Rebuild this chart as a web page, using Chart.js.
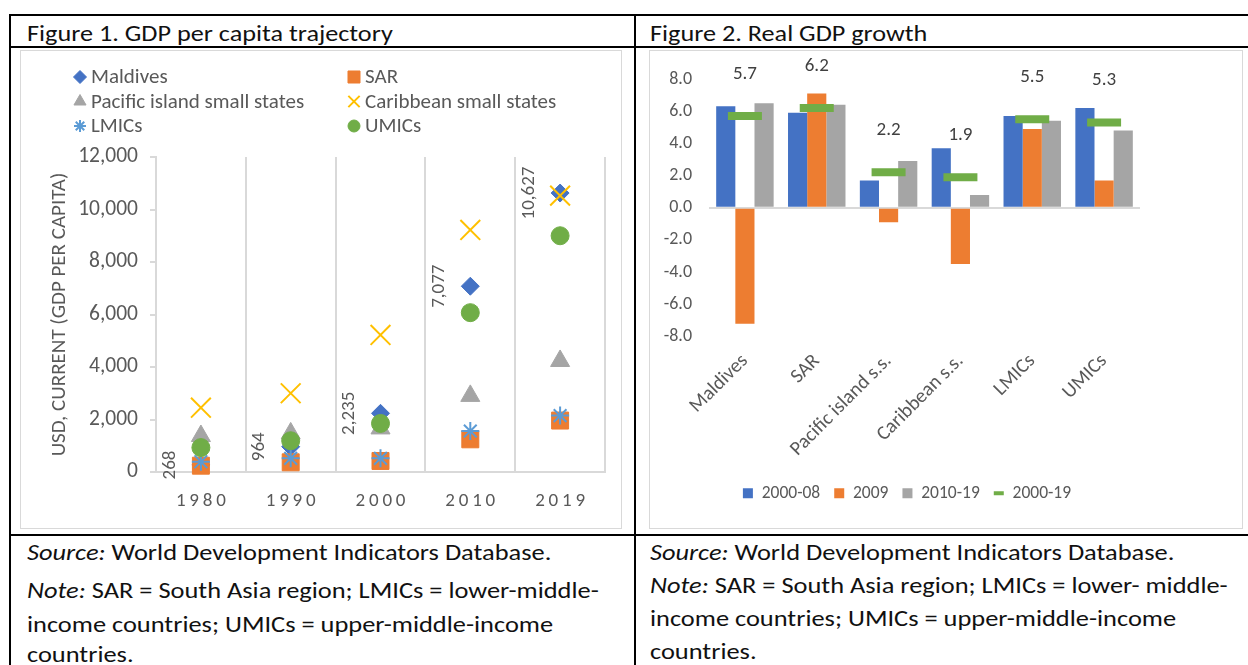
<!DOCTYPE html>
<html>
<head>
<meta charset="utf-8">
<script src="https://cdn.jsdelivr.net/npm/chart.js@4/dist/chart.umd.min.js"></script>
<style>
  html, body { margin: 0; padding: 0; background: #fff; }
  body { width: 1248px; height: 665px; overflow: hidden; position: relative; font-family: Carlito, Lato, sans-serif; color: #000; }
  .hl { position: absolute; left: 9px; width: 1239px; height: 2px; background: #000; }
  .vl { position: absolute; top: 14px; width: 2px; height: 651px; background: #000; }
  .hdr { position: absolute; top: 18px; font-size: 23px; line-height: 30px; white-space: nowrap; color: #111; transform: scaleX(1.14); transform-origin: 0 0; }
  .panel { position: absolute; top: 50px; height: 477px; border: 1px solid #d9d9d9; }
  .panel canvas { display: block; }
  .note { position: absolute; font-size: 22px; line-height: 30px; white-space: nowrap; color: #111; transform: scaleX(1.2); transform-origin: 0 0; }
</style>
</head>
<body>
<div class="hl" style="top:14px"></div>
<div class="hl" style="top:46px"></div>
<div class="hl" style="top:534px"></div>
<div class="vl" style="left:9px"></div>
<div class="vl" style="left:634px"></div>

<div class="hdr" style="left:27px">Figure 1. GDP per capita trajectory</div>
<div class="hdr" style="left:650px">Figure 2. Real GDP growth</div>

<div class="panel" style="left:20px;width:600px"><canvas id="c1" width="600" height="477"></canvas></div>
<div class="panel" style="left:649px;width:592px"><canvas id="c2" width="592" height="477"></canvas></div>

<div class="note" style="left:27px;top:538px"><i>Source:</i> World Development Indicators Database.</div>
<div class="note" style="left:27px;top:576px"><i>Note:</i> SAR = South Asia region; LMICs = lower-middle-</div>
<div class="note" style="left:27px;top:610px">income countries; UMICs = upper-middle-income</div>
<div class="note" style="left:27px;top:640px">countries.</div>

<div class="note" style="left:650px;top:538px"><i>Source:</i> World Development Indicators Database.</div>
<div class="note" style="left:650px;top:571px"><i>Note:</i> SAR = South Asia region; LMICs = lower- middle-</div>
<div class="note" style="left:650px;top:604px">income countries; UMICs = upper-middle-income</div>
<div class="note" style="left:650px;top:637px">countries.</div>

<script>
// Figure 1: GDP per capita, current USD
const years = ["1980", "1990", "2000", "2010", "2019"];
const maldives = [268, 964, 2235, 7077, 10627];
const sar = [240, 370, 420, 1245, 1960];
const pacific = [1370, 1470, 1660, 2900, 4230];
const caribbean = [2450, 3000, 5220, 9220, 10530];
const lmics = [390, 520, 520, 1560, 2150];
const umics = [930, 1190, 1850, 6070, 9000];
const gdpTicks = [0, 2000, 4000, 6000, 8000, 10000, 12000];

// Figure 2: real GDP growth, %
const regions = ["Maldives", "SAR", "Pacific island s.s.", "Caribbean s.s.", "LMICs", "UMICs"];
const g2000_08 = [6.3, 5.9, 1.7, 3.7, 5.7, 6.2];
const g2009 = [-7.2, 7.1, -0.9, -3.5, 4.9, 1.7];
const g2010_19 = [6.5, 6.4, 2.9, 0.8, 5.4, 4.8];
const g2000_19 = [5.7, 6.2, 2.2, 1.9, 5.5, 5.3];
const growthTicks = [-8, -6, -4, -2, 0, 2, 4, 6, 8];

const FONT = "Carlito, Lato, sans-serif";
Chart.defaults.font.family = FONT;
Chart.defaults.color = "#595959";
Chart.defaults.devicePixelRatio = 1;

const grey = "#d9d9d9";

function pts(label, data, style, color, radius, legendRadius, bw) {
  return {
    label, data,
    showLine: false,
    pointStyle: style,
    pointRadius: radius,
    pointHoverRadius: radius,
    pointBackgroundColor: color,
    pointBorderColor: color,
    pointBorderWidth: bw,
    backgroundColor: color,
    borderColor: color,
    legendRadius,
    clip: false,
  };
}

// legend laid out in two columns like the original
const pointLegend = {
  id: "pointLegend",
  afterDraw(chart) {
    const ctx = chart.ctx;
    chart.data.datasets.forEach((ds, i) => {
      const x = i % 2 ? 333 : 59;
      const y = 26 + Math.floor(i / 2) * 24.5;
      ctx.save();
      ctx.fillStyle = ds.pointBackgroundColor;
      ctx.strokeStyle = ds.pointBorderColor;
      ctx.lineWidth = ds.pointBorderWidth;
      Chart.helpers.drawPoint(ctx, { pointStyle: ds.pointStyle, radius: ds.legendRadius, rotation: 0, borderWidth: ds.pointBorderWidth }, x, y);
      ctx.fillStyle = "#595959";
      ctx.font = "21px " + FONT;
      ctx.textBaseline = "middle";
      ctx.fillText(ds.label, x + 11, y + 1);
      ctx.restore();
    });
  },
};

const maldivesLabels = {
  id: "maldivesLabels",
  afterDatasetsDraw(chart) {
    const ctx = chart.ctx;
    chart.getDatasetMeta(0).data.forEach((pt, i) => {
      ctx.save();
      ctx.translate(pt.x - 31, pt.y);
      ctx.rotate(-Math.PI / 2);
      ctx.font = "19px " + FONT;
      ctx.fillStyle = "#595959";
      ctx.textAlign = "center";
      ctx.textBaseline = "middle";
      ctx.fillText(maldives[i].toLocaleString("en-US"), 0, 0);
      ctx.restore();
    });
  },
};

const sets1 = [
  pts("Maldives", maldives, "rectRot", "#4472C4", 9, 6.5, 1),
  pts("SAR", sar, "rect", "#ED7D31", 12, 8.5, 1),
  pts("Pacific island small states", pacific, "triangle", "#A5A5A5", 11, 7, 1),
  pts("Caribbean small states", caribbean, "crossRot", "#FFC000", 14, 8, 2),
  pts("LMICs", lmics, "star", "#5B9BD5", 9, 6, 2),
  pts("UMICs", umics, "circle", "#70AD47", 9, 6, 1),
];
// later series sit on top, as in the original
sets1.forEach((d, i) => { d.order = sets1.length - i; });

new Chart(document.getElementById("c1"), {
  type: "line",
  data: { labels: years, datasets: sets1 },
  plugins: [pointLegend, maldivesLabels],
  options: {
    responsive: false,
    animation: false,
    layout: { padding: { top: 106, left: 22, right: 16, bottom: 10 } },
    plugins: { legend: { display: false }, tooltip: { enabled: false } },
    scales: {
      x: {
        offset: true,
        grid: { offset: true, color: grey, lineWidth: 2, drawTicks: false },
        border: { color: grey, width: 2 },
        ticks: {
          padding: 18,
          font: { size: 19 },
          callback: (v, i) => years[i].split("").join("\u2009"),
        },
        afterFit: (s) => { s.height = 46; },
      },
      y: {
        min: 0,
        max: 12000,
        afterBuildTicks: (s) => { s.ticks = gdpTicks.map((v) => ({ value: v })); },
        grid: { drawOnChartArea: false, color: grey, lineWidth: 2, tickLength: 6 },
        border: { color: grey, width: 2 },
        ticks: { padding: 12, font: { size: 21.5 }, callback: (v) => v.toLocaleString("en-US") },
        title: { display: true, text: "USD, CURRENT (GDP PER CAPITA)", font: { size: 21 } },
        afterFit: (s) => { s.width = 113; },
      },
    },
  },
});

const growthLabels = {
  id: "growthLabels",
  afterDatasetsDraw(chart) {
    const ctx = chart.ctx;
    chart.getDatasetMeta(3).data.forEach((pt, i) => {
      ctx.save();
      ctx.font = "19px " + FONT;
      ctx.fillStyle = "#404040";
      ctx.textAlign = "center";
      ctx.textBaseline = "middle";
      ctx.fillText(g2000_19[i].toFixed(1), pt.x, pt.y - 42);
      ctx.restore();
    });
  },
};

new Chart(document.getElementById("c2"), {
  type: "bar",
  data: {
    labels: regions,
    datasets: [
      { label: "2000-08", data: g2000_08, backgroundColor: "#4472C4", pointStyle: "rect", order: 1 },
      { label: "2009", data: g2009, backgroundColor: "#ED7D31", pointStyle: "rect", order: 1 },
      { label: "2010-19", data: g2010_19, backgroundColor: "#A5A5A5", pointStyle: "rect", order: 1 },
      {
        type: "line", label: "2000-19", data: g2000_19, showLine: false,
        pointStyle: "line", pointRadius: 17, pointHoverRadius: 17, pointBorderWidth: 8,
        pointBorderColor: "#70AD47", pointBackgroundColor: "#70AD47",
        borderColor: "#70AD47", backgroundColor: "#70AD47", order: 0, clip: false,
      },
    ],
  },
  plugins: [growthLabels],
  options: {
    responsive: false,
    animation: false,
    categoryPercentage: 0.8,
    barPercentage: 1.0,
    layout: { padding: { top: 28, right: 78, bottom: 16, left: 0 } },
    plugins: {
      tooltip: { enabled: false },
      legend: {
        position: "bottom",
        labels: {
          usePointStyle: true,
          boxWidth: 10,
          boxHeight: 10,
          pointStyleWidth: 10,
          padding: 14,
          font: { size: 17.5 },
          color: "#595959",
          sort: (a, b) => a.datasetIndex - b.datasetIndex,
          generateLabels(chart) {
            const items = Chart.defaults.plugins.legend.labels.generateLabels(chart);
            items.forEach((it) => { if (it.pointStyle === "line") it.lineWidth = 4; });
            return items;
          },
        },
      },
    },
    scales: {
      x: {
        grid: { display: false },
        border: { display: false },
        ticks: { maxRotation: 45, minRotation: 45, autoSkip: false, padding: 5, font: { size: 20 } },
        afterFit: (s) => { s.height = 134; },
      },
      y: {
        min: -8,
        max: 8,
        afterBuildTicks: (s) => { s.ticks = growthTicks.map((v) => ({ value: v })); },
        border: { display: false },
        grid: {
          drawTicks: false,
          lineWidth: 2,
          color: (c) => (c.tick && c.tick.value === 0 ? grey : "rgba(0,0,0,0)"),
        },
        ticks: { padding: 17, font: { size: 18 }, callback: (v) => Number(v).toFixed(1) },
        afterFit: (s) => { s.width = 59; },
      },
      // empty right-hand strip so the legend centres where the original does
      yr: {
        position: "right",
        grid: { display: false },
        border: { display: false },
        ticks: { display: false },
        afterFit: (s) => { s.width = 24; },
      },
    },
  },
});
</script>
</body>
</html>
